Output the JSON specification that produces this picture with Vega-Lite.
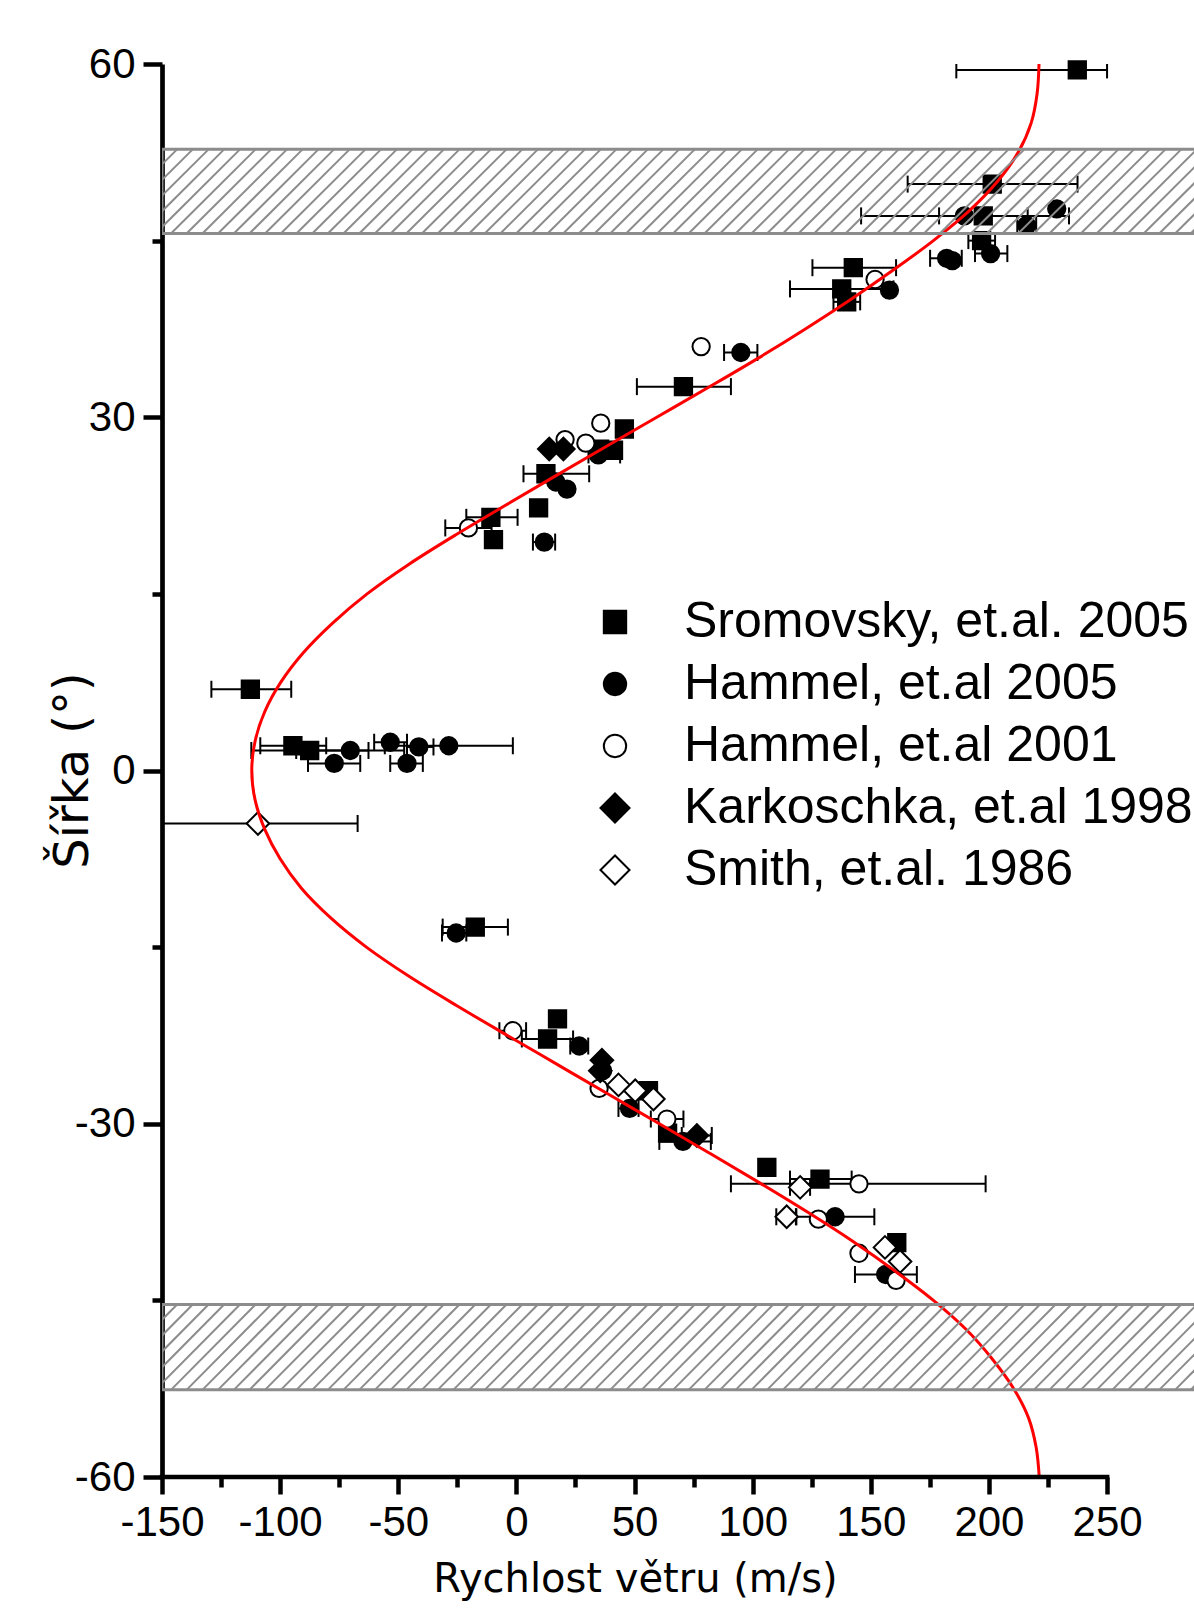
{
  "$schema": "https://vega.github.io/schema/vega-lite/v6.json",
  "width": 1032,
  "height": 1413,
  "autosize": {"type": "none"},
  "padding": {"left": 162, "top": 64, "right": 0, "bottom": 139},
  "background": "white",
  "config": {
    "view": {"stroke": null},
    "axis": {"grid": false},
    "legend": {
      "title": null,
      "orient": "none",
      "legendX": 428,
      "legendY": 533,
      "symbolSize": 500,
      "symbolStrokeWidth": 2,
      "symbolOpacity": 1,
      "labelFont": "Liberation Sans",
      "labelFontSize": 50,
      "labelColor": "black",
      "labelOffset": 44,
      "labelLimit": 0,
      "rowPadding": 12
    }
  },
  "datasets": {
    "pts": [
      {"s": "Sromovsky, et.al. 2005", "v": 237.4, "lat": 59.5, "lo": 186.2, "hi": 250.0},
      {"s": "Sromovsky, et.al. 2005", "v": 201.4, "lat": 49.8, "lo": 165.6, "hi": 237.5},
      {"s": "Sromovsky, et.al. 2005", "v": 197.6, "lat": 47.1, "lo": 178.9, "hi": 216.4},
      {"s": "Sromovsky, et.al. 2005", "v": 196.9, "lat": 45.0, "lo": 191.3, "hi": 202.6},
      {"s": "Sromovsky, et.al. 2005", "v": 142.6, "lat": 42.7, "lo": 125.3, "hi": 160.7},
      {"s": "Sromovsky, et.al. 2005", "v": 137.7, "lat": 40.9, "lo": 115.8, "hi": 159.6},
      {"s": "Sromovsky, et.al. 2005", "v": 139.8, "lat": 39.8, "lo": 134.2, "hi": 145.5},
      {"s": "Sromovsky, et.al. 2005", "v": 70.7, "lat": 32.6, "lo": 51.0, "hi": 90.8},
      {"s": "Sromovsky, et.al. 2005", "v": 45.7, "lat": 29.0},
      {"s": "Sromovsky, et.al. 2005", "v": 35.2, "lat": 27.3},
      {"s": "Sromovsky, et.al. 2005", "v": 41.1, "lat": 27.2},
      {"s": "Sromovsky, et.al. 2005", "v": 12.5, "lat": 25.2, "lo": 3.0, "hi": 30.8},
      {"s": "Sromovsky, et.al. 2005", "v": 9.4, "lat": 22.3},
      {"s": "Sromovsky, et.al. 2005", "v": -10.8, "lat": 21.5, "lo": -21.2, "hi": 0.5},
      {"s": "Sromovsky, et.al. 2005", "v": -9.7, "lat": 19.6},
      {"s": "Sromovsky, et.al. 2005", "v": -112.6, "lat": 6.9, "lo": -129.1, "hi": -95.3},
      {"s": "Sromovsky, et.al. 2005", "v": -94.6, "lat": 2.1, "lo": -108.4, "hi": -80.5},
      {"s": "Sromovsky, et.al. 2005", "v": -87.5, "lat": 1.7, "lo": -112.2, "hi": -62.6},
      {"s": "Sromovsky, et.al. 2005", "v": -17.4, "lat": -13.3, "lo": -31.2, "hi": -3.6},
      {"s": "Sromovsky, et.al. 2005", "v": 17.4, "lat": -21.1},
      {"s": "Sromovsky, et.al. 2005", "v": 13.2, "lat": -22.8, "lo": 2.3, "hi": 24.0},
      {"s": "Sromovsky, et.al. 2005", "v": 55.9, "lat": -27.2},
      {"s": "Sromovsky, et.al. 2005", "v": 64.0, "lat": -30.8},
      {"s": "Sromovsky, et.al. 2005", "v": 106.0, "lat": -33.7},
      {"s": "Sromovsky, et.al. 2005", "v": 128.5, "lat": -34.7, "lo": 115.8, "hi": 141.9},
      {"s": "Sromovsky, et.al. 2005", "v": 161.0, "lat": -40.1},
      {"s": "Hammel, et.al 2005", "v": 189.6, "lat": 47.1, "lo": 145.9, "hi": 233.9},
      {"s": "Hammel, et.al 2005", "v": 228.7, "lat": 47.7},
      {"s": "Hammel, et.al 2005", "v": 216.0, "lat": 46.3, "lo": 212.0, "hi": 220.0},
      {"s": "Hammel, et.al 2005", "v": 182.1, "lat": 43.5, "lo": 175.1, "hi": 188.5},
      {"s": "Hammel, et.al 2005", "v": 184.5, "lat": 43.3},
      {"s": "Hammel, et.al 2005", "v": 200.7, "lat": 43.9, "lo": 194.1, "hi": 207.8},
      {"s": "Hammel, et.al 2005", "v": 157.9, "lat": 40.8},
      {"s": "Hammel, et.al 2005", "v": 95.0, "lat": 35.5, "lo": 87.9, "hi": 102.0},
      {"s": "Hammel, et.al 2005", "v": 34.7, "lat": 26.8, "lo": 30.5, "hi": 43.9},
      {"s": "Hammel, et.al 2005", "v": 16.7, "lat": 24.5},
      {"s": "Hammel, et.al 2005", "v": 21.4, "lat": 23.9},
      {"s": "Hammel, et.al 2005", "v": 11.8, "lat": 19.4, "lo": 7.0, "hi": 16.4},
      {"s": "Hammel, et.al 2005", "v": -70.3, "lat": 1.7, "lo": -93.2, "hi": -47.5},
      {"s": "Hammel, et.al 2005", "v": -77.1, "lat": 0.6, "lo": -88.2, "hi": -66.1},
      {"s": "Hammel, et.al 2005", "v": -53.4, "lat": 2.4, "lo": -60.2, "hi": -46.3},
      {"s": "Hammel, et.al 2005", "v": -41.3, "lat": 2.0, "lo": -46.3, "hi": -35.1},
      {"s": "Hammel, et.al 2005", "v": -28.6, "lat": 2.1, "lo": -55.7, "hi": -1.5},
      {"s": "Hammel, et.al 2005", "v": -46.3, "lat": 0.6, "lo": -53.4, "hi": -39.6},
      {"s": "Hammel, et.al 2005", "v": -25.5, "lat": -13.8, "lo": -31.5, "hi": -21.2},
      {"s": "Hammel, et.al 2005", "v": 26.6, "lat": -23.4, "lo": 22.8, "hi": 30.4},
      {"s": "Hammel, et.al 2005", "v": 36.5, "lat": -25.5},
      {"s": "Hammel, et.al 2005", "v": 47.9, "lat": -28.7, "lo": 43.2, "hi": 51.7},
      {"s": "Hammel, et.al 2005", "v": 70.5, "lat": -31.5, "lo": 60.5, "hi": 82.3},
      {"s": "Hammel, et.al 2005", "v": 134.9, "lat": -37.9, "lo": 118.3, "hi": 151.5},
      {"s": "Hammel, et.al 2005", "v": 156.3, "lat": -42.8, "lo": 143.3, "hi": 169.5},
      {"s": "Hammel, et.al 2001", "v": 151.8, "lat": 41.7},
      {"s": "Hammel, et.al 2001", "v": 78.2, "lat": 36.0},
      {"s": "Hammel, et.al 2001", "v": 35.7, "lat": 29.5},
      {"s": "Hammel, et.al 2001", "v": 20.6, "lat": 28.1},
      {"s": "Hammel, et.al 2001", "v": 29.4, "lat": 27.8},
      {"s": "Hammel, et.al 2001", "v": -20.3, "lat": 20.6, "lo": -30.1, "hi": -10.5},
      {"s": "Hammel, et.al 2001", "v": -1.5, "lat": -22.1, "lo": -7.2, "hi": 4.1},
      {"s": "Hammel, et.al 2001", "v": 35.0, "lat": -27.0},
      {"s": "Hammel, et.al 2001", "v": 63.7, "lat": -29.6, "lo": 56.9, "hi": 70.7},
      {"s": "Hammel, et.al 2001", "v": 145.0, "lat": -35.1, "lo": 90.8, "hi": 198.6},
      {"s": "Hammel, et.al 2001", "v": 127.8, "lat": -38.1},
      {"s": "Hammel, et.al 2001", "v": 145.0, "lat": -41.0},
      {"s": "Hammel, et.al 2001", "v": 160.7, "lat": -43.3},
      {"s": "Karkoschka, et.al 1998", "v": 13.9, "lat": 27.3},
      {"s": "Karkoschka, et.al 1998", "v": 19.9, "lat": 27.3},
      {"s": "Karkoschka, et.al 1998", "v": 36.2, "lat": -24.6},
      {"s": "Karkoschka, et.al 1998", "v": 35.5, "lat": -25.5},
      {"s": "Karkoschka, et.al 1998", "v": 76.4, "lat": -31.0, "lo": 70.0, "hi": 82.7},
      {"s": "Smith, et.al. 1986", "v": -109.4, "lat": -4.5, "lo": -151.6, "hi": -67.2},
      {"s": "Smith, et.al. 1986", "v": 43.2, "lat": -26.7},
      {"s": "Smith, et.al. 1986", "v": 50.3, "lat": -27.2},
      {"s": "Smith, et.al. 1986", "v": 58.0, "lat": -27.9},
      {"s": "Smith, et.al. 1986", "v": 120.1, "lat": -35.4, "lo": 115.8, "hi": 124.3},
      {"s": "Smith, et.al. 1986", "v": 114.4, "lat": -37.9, "lo": 110.0, "hi": 118.5},
      {"s": "Smith, et.al. 1986", "v": 156.0, "lat": -40.5},
      {"s": "Smith, et.al. 1986", "v": 162.4, "lat": -41.7}
    ],
    "curve": [
      {"lat": 60, "v": 221.2}, {"lat": 57.5, "v": 220.4}, {"lat": 55, "v": 217.9},
      {"lat": 52.5, "v": 212.4}, {"lat": 50, "v": 203.5}, {"lat": 47.5, "v": 191.5},
      {"lat": 45, "v": 176.5}, {"lat": 42.5, "v": 159.5}, {"lat": 40, "v": 141.5},
      {"lat": 37.5, "v": 122.3}, {"lat": 35, "v": 102.2}, {"lat": 32.5, "v": 81.0},
      {"lat": 30, "v": 59.4}, {"lat": 27.5, "v": 37.8}, {"lat": 25, "v": 16.4},
      {"lat": 22.5, "v": -4.8}, {"lat": 20, "v": -25.8}, {"lat": 17.5, "v": -45.6},
      {"lat": 15, "v": -63.2}, {"lat": 12.5, "v": -77.9}, {"lat": 10, "v": -90.2},
      {"lat": 7.5, "v": -99.7}, {"lat": 5, "v": -106.5}, {"lat": 2.5, "v": -110.6},
      {"lat": 0, "v": -112.0}, {"lat": -2.5, "v": -110.6}, {"lat": -5, "v": -106.5},
      {"lat": -7.5, "v": -100.0}, {"lat": -10, "v": -91.0}, {"lat": -12.5, "v": -78.7},
      {"lat": -15, "v": -63.5}, {"lat": -17.5, "v": -45.3}, {"lat": -20, "v": -25.0},
      {"lat": -22.5, "v": -3.8}, {"lat": -25, "v": 17.6}, {"lat": -27.5, "v": 39.0},
      {"lat": -30, "v": 60.5}, {"lat": -32.5, "v": 81.8}, {"lat": -35, "v": 102.8},
      {"lat": -37.5, "v": 123.2}, {"lat": -40, "v": 142.5}, {"lat": -42.5, "v": 160.2},
      {"lat": -45, "v": 176.5}, {"lat": -47.5, "v": 190.5}, {"lat": -50, "v": 201.5},
      {"lat": -52.5, "v": 210.5}, {"lat": -55, "v": 216.8}, {"lat": -57.5, "v": 220.0},
      {"lat": -60, "v": 221.3}
    ],
    "bands": [
      {"lo": 45.6, "hi": 52.75},
      {"lo": -52.6, "hi": -45.35}
    ],
    "hatch": [
      {"a": -179.4, "b": -143.6}, {"a": -172.8, "b": -137.0}, {"a": -166.1, "b": -130.3},
      {"a": -159.5, "b": -123.7}, {"a": -152.8, "b": -117.0}, {"a": -146.2, "b": -110.4},
      {"a": -139.6, "b": -103.8}, {"a": -132.9, "b": -97.1}, {"a": -126.3, "b": -90.5},
      {"a": -119.6, "b": -83.8}, {"a": -113.0, "b": -77.2}, {"a": -106.4, "b": -70.6},
      {"a": -99.7, "b": -63.9}, {"a": -93.1, "b": -57.3}, {"a": -86.4, "b": -50.6},
      {"a": -79.8, "b": -44.0}, {"a": -73.2, "b": -37.4}, {"a": -66.5, "b": -30.7},
      {"a": -59.9, "b": -24.1}, {"a": -53.2, "b": -17.4}, {"a": -46.6, "b": -10.8},
      {"a": -40.0, "b": -4.2}, {"a": -33.3, "b": 2.5}, {"a": -26.7, "b": 9.1},
      {"a": -20.0, "b": 15.8}, {"a": -13.4, "b": 22.4}, {"a": -6.8, "b": 29.0},
      {"a": -0.1, "b": 35.7}, {"a": 6.5, "b": 42.3}, {"a": 13.2, "b": 49.0},
      {"a": 19.8, "b": 55.6}, {"a": 26.4, "b": 62.2}, {"a": 33.1, "b": 68.9},
      {"a": 39.7, "b": 75.5}, {"a": 46.4, "b": 82.2}, {"a": 53.0, "b": 88.8},
      {"a": 59.6, "b": 95.4}, {"a": 66.3, "b": 102.1}, {"a": 72.9, "b": 108.7},
      {"a": 79.6, "b": 115.4}, {"a": 86.2, "b": 122.0}, {"a": 92.8, "b": 128.6},
      {"a": 99.5, "b": 135.3}, {"a": 106.1, "b": 141.9}, {"a": 112.8, "b": 148.6},
      {"a": 119.4, "b": 155.2}, {"a": 126.0, "b": 161.8}, {"a": 132.7, "b": 168.5},
      {"a": 139.3, "b": 175.1}, {"a": 146.0, "b": 181.8}, {"a": 152.6, "b": 188.4},
      {"a": 159.2, "b": 195.0}, {"a": 165.9, "b": 201.7}, {"a": 172.5, "b": 208.3},
      {"a": 179.2, "b": 215.0}, {"a": 185.8, "b": 221.6}, {"a": 192.4, "b": 228.2},
      {"a": 199.1, "b": 234.9}, {"a": 205.7, "b": 241.5}, {"a": 212.4, "b": 248.2},
      {"a": 219.0, "b": 254.8}, {"a": 225.6, "b": 261.4}, {"a": 232.3, "b": 268.1},
      {"a": 238.9, "b": 274.7}, {"a": 245.6, "b": 281.4}, {"a": 252.2, "b": 288.0},
      {"a": 258.8, "b": 294.6}, {"a": 265.5, "b": 301.3}, {"a": 272.1, "b": 307.9},
      {"a": 278.8, "b": 314.6}, {"a": 285.4, "b": 321.2}
    ]
  },
  "layer": [
    {
      "data": {"name": "pts"},
      "transform": [{"filter": "isValid(datum.lo)"}],
      "mark": {"type": "rule", "color": "black", "strokeWidth": 2, "clip": true},
      "encoding": {
        "x": {
          "field": "lo",
          "type": "quantitative",
          "scale": {"domain": [-150, 286.8], "nice": false, "zero": false},
          "axis": {
            "values": [-150, -125, -100, -75, -50, -25, 0, 25, 50, 75, 100, 125, 150, 175, 200, 225, 250],
            "labelExpr": "datum.value % 50 === 0 ? '' + datum.value : ''",
            "labelOverlap": false,
            "labelFlush": false,
            "domain": false,
            "tickColor": "black",
            "tickWidth": 4.5,
            "tickSize": {"condition": {"test": "datum.value % 50 === 0", "value": 17}, "value": 10},
            "labelFont": "Liberation Sans",
            "labelFontSize": 42,
            "labelColor": "black",
            "labelPadding": 8,
            "title": "Rychlost větru (m/s)",
            "titleFont": "DejaVu Sans",
            "titleFontSize": 40,
            "titleFontWeight": "normal",
            "titleColor": "black",
            "titleX": 473,
            "titleY": 114,
            "titleAlign": "center",
            "titleBaseline": "alphabetic"
          }
        },
        "x2": {"field": "hi"},
        "y": {
          "field": "lat",
          "type": "quantitative",
          "scale": {"domain": [-60, 60], "nice": false, "zero": false},
          "axis": {
            "values": [-60, -45, -30, -15, 0, 15, 30, 45, 60],
            "labelExpr": "datum.value % 30 === 0 ? '' + datum.value : ''",
            "labelOverlap": false,
            "labelFlush": false,
            "domainColor": "black",
            "domainWidth": 4.7,
            "tickColor": "black",
            "tickWidth": 4.5,
            "tickSize": {"condition": {"test": "datum.value % 30 === 0", "value": 19}, "value": 10},
            "labelFont": "Liberation Sans",
            "labelFontSize": 42,
            "labelColor": "black",
            "labelPadding": 8,
            "title": "Šířka (°)",
            "titleFont": "DejaVu Sans",
            "titleFontSize": 48,
            "titleFontWeight": "normal",
            "titleColor": "black",
            "titleAngle": 270,
            "titleX": -75,
            "titleY": 706,
            "titleAlign": "center",
            "titleBaseline": "alphabetic"
          }
        }
      }
    },
    {
      "data": {"name": "pts"},
      "transform": [{"filter": "isValid(datum.lo)"}],
      "mark": {"type": "tick", "orient": "vertical", "color": "black", "size": 17, "thickness": 2, "opacity": 1, "clip": true},
      "encoding": {
        "x": {"field": "lo", "type": "quantitative"},
        "y": {"field": "lat", "type": "quantitative"}
      }
    },
    {
      "data": {"name": "pts"},
      "transform": [{"filter": "isValid(datum.hi)"}],
      "mark": {"type": "tick", "orient": "vertical", "color": "black", "size": 17, "thickness": 2, "opacity": 1, "clip": true},
      "encoding": {
        "x": {"field": "hi", "type": "quantitative"},
        "y": {"field": "lat", "type": "quantitative"}
      }
    },
    {
      "data": {"name": "pts"},
      "mark": {"type": "point", "size": 300, "strokeWidth": 2, "opacity": 1},
      "encoding": {
        "x": {"field": "v", "type": "quantitative"},
        "y": {"field": "lat", "type": "quantitative"},
        "shape": {
          "field": "s",
          "type": "nominal",
          "scale": {
            "domain": ["Sromovsky, et.al. 2005", "Hammel, et.al 2005", "Hammel, et.al 2001", "Karkoschka, et.al 1998", "Smith, et.al. 1986"],
            "range": ["square", "circle", "circle", "M-1.3,0L0,-1.3L1.3,0L0,1.3Z", "M-1.3,0L0,-1.3L1.3,0L0,1.3Z"]
          }
        },
        "fill": {
          "field": "s",
          "type": "nominal",
          "scale": {
            "domain": ["Sromovsky, et.al. 2005", "Hammel, et.al 2005", "Hammel, et.al 2001", "Karkoschka, et.al 1998", "Smith, et.al. 1986"],
            "range": ["black", "black", "white", "black", "white"]
          }
        },
        "stroke": {
          "field": "s",
          "type": "nominal",
          "scale": {
            "domain": ["Sromovsky, et.al. 2005", "Hammel, et.al 2005", "Hammel, et.al 2001", "Karkoschka, et.al 1998", "Smith, et.al. 1986"],
            "range": ["black", "black", "black", "black", "black"]
          }
        }
      }
    },
    {
      "data": {"name": "curve"},
      "mark": {"type": "line", "color": "#ff0000", "strokeWidth": 3, "interpolate": "catmull-rom"},
      "encoding": {
        "x": {"field": "v", "type": "quantitative"},
        "y": {"field": "lat", "type": "quantitative"},
        "order": {"field": "lat", "type": "quantitative"}
      }
    },
    {
      "data": {"name": "hatch"},
      "mark": {"type": "rule", "color": "#8c8c8c", "strokeWidth": 2, "clip": true},
      "encoding": {
        "x": {"field": "a", "type": "quantitative"},
        "x2": {"field": "b"},
        "y": {"datum": 45.6, "type": "quantitative"},
        "y2": {"datum": 52.75}
      }
    },
    {
      "data": {"name": "hatch"},
      "mark": {"type": "rule", "color": "#8c8c8c", "strokeWidth": 2, "clip": true},
      "encoding": {
        "x": {"field": "a", "type": "quantitative"},
        "x2": {"field": "b"},
        "y": {"datum": -52.6, "type": "quantitative"},
        "y2": {"datum": -45.35}
      }
    },
    {
      "data": {"name": "bands"},
      "mark": {"type": "rect", "fill": "white", "fillOpacity": 0, "stroke": "#8c8c8c", "strokeWidth": 3, "clip": true},
      "encoding": {
        "x": {"datum": -150, "type": "quantitative"},
        "x2": {"datum": 300},
        "y": {"field": "lo", "type": "quantitative"},
        "y2": {"field": "hi"}
      }
    },
    {
      "data": {"values": [{}]},
      "mark": {"type": "rule", "color": "black", "strokeWidth": 4.7, "strokeCap": "square"},
      "encoding": {
        "x": {"datum": -150, "type": "quantitative"},
        "x2": {"datum": 250},
        "y": {"datum": -60, "type": "quantitative"}
      }
    }
  ]
}
